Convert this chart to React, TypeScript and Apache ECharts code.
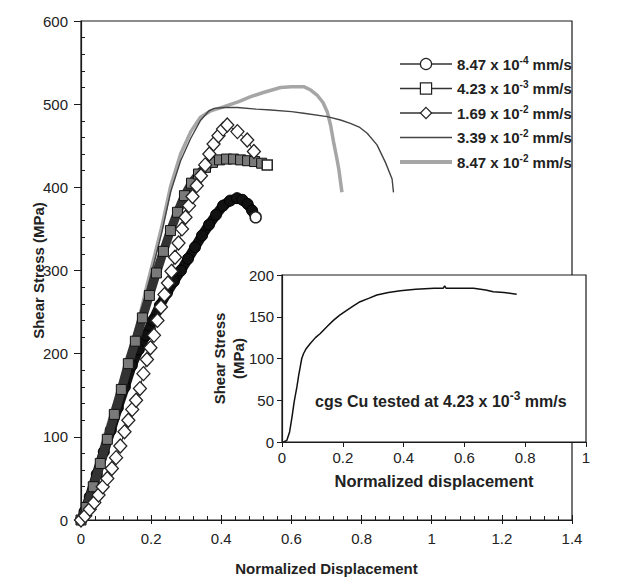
import React, { useEffect, useRef } from "react";
import * as echarts from "echarts";

// Main plot: x ticks / y ticks
const mainXTicks = [0, 0.2, 0.4, 0.6, 0.8, 1, 1.2, 1.4];
const mainYTicks = [0, 100, 200, 300, 400, 500, 600];

// Legend names (mantissa + exponent)
const rateMantissa = ["8.47", "4.23", "1.69", "3.39", "8.47"];
const rateExponent = ["-4", "-3", "-2", "-2", "-2"];
const seriesNames = ["s847e4", "s423e3", "s169e2", "s339e2", "s847e2"];

// 8.47e-4 mm/s (circles)
const circX = [0, 0.01, 0.025, 0.045, 0.065, 0.085, 0.105, 0.125, 0.145, 0.165, 0.185, 0.205, 0.225, 0.245, 0.265, 0.285, 0.305, 0.325, 0.345, 0.365, 0.385, 0.405, 0.425, 0.445, 0.46, 0.475, 0.488, 0.498];
const circY = [0, 10, 28, 55, 82, 108, 135, 160, 186, 205, 222, 240, 258, 273, 287, 300, 314, 328, 342, 355, 367, 378, 384, 387, 385, 380, 372, 364];

// 4.23e-3 mm/s (squares)
const sqX = [0, 0.015, 0.035, 0.055, 0.075, 0.095, 0.115, 0.135, 0.155, 0.175, 0.195, 0.215, 0.235, 0.255, 0.275, 0.295, 0.315, 0.335, 0.355, 0.375, 0.395, 0.415, 0.435, 0.455, 0.475, 0.495, 0.515, 0.531];
const sqY = [0, 15, 40, 68, 97, 127, 157, 188, 215, 243, 270, 297, 323, 348, 370, 390, 405, 416, 424, 430, 433, 434, 434, 433, 432, 431, 429, 427];

// 1.69e-2 mm/s (diamonds)
const diaX = [0, 0.012, 0.025, 0.038, 0.05, 0.062, 0.075, 0.088, 0.1, 0.112, 0.124, 0.135, 0.146, 0.157, 0.168, 0.178, 0.188, 0.198, 0.208, 0.218, 0.228, 0.238, 0.248, 0.258, 0.268, 0.278, 0.288, 0.298, 0.308, 0.318, 0.33, 0.342, 0.354, 0.366, 0.378, 0.392, 0.405, 0.417, 0.446, 0.474, 0.493];
const diaY = [0, 5, 13, 21, 30, 40, 50, 62, 75, 89, 106, 120, 133, 144, 158, 176, 193, 207, 222, 240, 256, 271, 285, 299, 316, 333, 350, 364, 378, 389, 402, 414, 427, 440, 452, 462, 470, 475, 467, 457, 443];

// 3.39e-2 mm/s (thin line)
const thinX = [0, 0.01, 0.03, 0.05, 0.067, 0.09, 0.12, 0.145, 0.17, 0.19, 0.21, 0.23, 0.256, 0.284, 0.313, 0.34, 0.365, 0.38, 0.41, 0.446, 0.5, 0.541, 0.6, 0.635, 0.702, 0.74, 0.768, 0.795, 0.816, 0.844, 0.868, 0.887, 0.891];
const thinY = [0, 13, 42, 72, 98, 131, 170, 207, 246, 280, 312, 345, 395, 432, 459, 480, 492, 495, 496, 496, 494, 493, 491, 489, 485, 481, 477, 472, 465, 451, 430, 410, 394];

// 8.47e-2 mm/s (thick gray line)
const grayX = [0, 0.01, 0.03, 0.05, 0.065, 0.09, 0.12, 0.145, 0.17, 0.19, 0.21, 0.23, 0.256, 0.284, 0.313, 0.34, 0.37, 0.408, 0.45, 0.484, 0.52, 0.569, 0.6, 0.635, 0.655, 0.673, 0.69, 0.702, 0.712, 0.72, 0.728, 0.735, 0.744];
const grayY = [0, 14, 44, 74, 98, 133, 172, 210, 250, 285, 318, 352, 402, 440, 467, 484, 492, 497, 503, 509, 514, 520, 521, 521, 517, 511, 502, 491, 474, 455, 438, 422, 394];

// Inset: cgs Cu tested at 4.23e-3 mm/s
const insetX = [0.005, 0.016, 0.025, 0.033, 0.04, 0.049, 0.055, 0.06, 0.065, 0.071, 0.08, 0.093, 0.11, 0.126, 0.15, 0.17, 0.19, 0.214, 0.235, 0.257, 0.285, 0.312, 0.35, 0.389, 0.44, 0.5, 0.53, 0.535, 0.54, 0.58, 0.63, 0.67, 0.695, 0.73, 0.772];
const insetY = [0, 2, 12, 30, 48, 66, 80, 90, 100, 106, 112, 118, 125, 130, 139, 146, 152, 158, 163, 168, 172, 176, 179, 181, 183, 184, 184, 187, 184, 184, 184, 182, 180, 179, 177];
const insetXTicks = [0, 0.2, 0.4, 0.6, 0.8, 1];
const insetYTicks = [0, 50, 100, 150, 200];

const FONT = "'Liberation Sans', Arial, Helvetica, sans-serif";

function pairs(xs: number[], ys: number[], lastStyle?: any) {
  return xs.map((x, i) => {
    if (lastStyle && i === xs.length - 1) return { value: [x, ys[i]], itemStyle: lastStyle };
    return [x, ys[i]];
  });
}

export default function App() {
  const ref = useRef<HTMLDivElement>(null);
  useEffect(() => {
    if (!ref.current) return;
    const chart = echarts.init(ref.current, null, { renderer: "svg" });
    const richLegend = {
      b: { fontSize: 15, fontWeight: "bold", color: "#222", lineHeight: 18, fontFamily: FONT },
      s: { fontSize: 10, fontWeight: "bold", color: "#222", lineHeight: 10, verticalAlign: "top", fontFamily: FONT },
    };
    const legendFormatter = (name: string) => {
      const i = seriesNames.indexOf(name);
      return `{b|${rateMantissa[i]} x 10}{s|${rateExponent[i]}}{b| mm/s}`;
    };
    const black = "#1a1a1a";
    const mainGrid = { left: 81, right: 52, top: 21, bottom: 62 };
    const option: any = {
      animation: false,
      backgroundColor: "#fff",
      textStyle: { fontFamily: FONT },
      grid: [
        { ...mainGrid, show: true, borderColor: black, borderWidth: 1.2, backgroundColor: "transparent" },
        { left: 282, right: 38, top: 275, bottom: 140, show: true, borderColor: black, borderWidth: 1.2, backgroundColor: "#fff" },
        { ...mainGrid, show: false },
      ],
      xAxis: [
        {
          gridIndex: 0, type: "value", position: "bottom",
          min: mainXTicks[0], max: mainXTicks[mainXTicks.length - 1], interval: 0.2,
          axisLine: { onZero: false, lineStyle: { color: black, width: 1.2 } },
          axisTick: { show: true, inside: false, length: 4, lineStyle: { color: black } },
          splitLine: { show: false },
          axisLabel: { fontSize: 15, color: "#222", margin: 11 },
          name: "Normalized Displacement", nameLocation: "middle", nameGap: 41, nameMoveOverlap: false,
          nameTextStyle: { fontSize: 15, fontWeight: "bold", color: "#222" },
        },
        {
          gridIndex: 1, type: "value", position: "bottom",
          min: insetXTicks[0], max: insetXTicks[insetXTicks.length - 1], interval: 0.2,
          axisLine: { onZero: false, lineStyle: { color: black, width: 1.2 } },
          axisTick: { show: true, inside: false, length: 5, lineStyle: { color: black } },
          splitLine: { show: false },
          axisLabel: { fontSize: 15, color: "#222", margin: 8 },
          name: "Normalized displacement", nameLocation: "middle", nameGap: 30, nameMoveOverlap: false,
          nameTextStyle: { fontSize: 16.5, fontWeight: "bold", color: "#222" },
        },
        {
          gridIndex: 2, type: "value", position: "bottom",
          min: mainXTicks[0], max: mainXTicks[mainXTicks.length - 1], interval: 0.2,
          axisLine: { show: false, onZero: false },
          axisTick: { show: true, inside: true, length: 5, lineStyle: { color: black } },
          minorTick: { show: true, splitNumber: 5, length: 4, lineStyle: { color: black } },
          splitLine: { show: false }, axisLabel: { show: false },
        },
      ],
      yAxis: [
        {
          gridIndex: 0, type: "value", position: "left",
          min: mainYTicks[0], max: mainYTicks[mainYTicks.length - 1], interval: 100,
          axisLine: { show: true, onZero: false, lineStyle: { color: black, width: 1.2 } },
          axisTick: { show: true, inside: false, length: 7, lineStyle: { color: black } },
          splitLine: { show: false },
          axisLabel: { fontSize: 15, color: "#222", margin: 13 },
          name: "Shear Stress (MPa)", nameLocation: "middle", nameGap: 35, nameRotate: 90, nameMoveOverlap: false,
          nameTextStyle: { fontSize: 15, fontWeight: "bold", color: "#222" },
        },
        {
          gridIndex: 1, type: "value", position: "left",
          min: insetYTicks[0], max: insetYTicks[insetYTicks.length - 1], interval: 50,
          axisLine: { show: true, onZero: false, lineStyle: { color: black, width: 1.2 } },
          axisTick: { show: true, inside: false, length: 5, lineStyle: { color: black } },
          splitLine: { show: false },
          axisLabel: { fontSize: 15, color: "#222", margin: 8 },
          name: "Shear Stress\n(MPa)", nameLocation: "middle", nameGap: 34, nameRotate: 90, nameMoveOverlap: false,
          nameTextStyle: { fontSize: 15, fontWeight: "bold", color: "#222", lineHeight: 19 },
        },
        {
          gridIndex: 2, type: "value", position: "left",
          min: mainYTicks[0], max: mainYTicks[mainYTicks.length - 1], interval: 100,
          axisLine: { show: false, onZero: false },
          axisTick: { show: false, inside: true },
          minorTick: { show: true, splitNumber: 5, length: 4, lineStyle: { color: black } },
          splitLine: { show: false }, axisLabel: { show: false },
        },
      ],
      legend: {
        orient: "vertical", left: 393, top: 50,
        itemWidth: 52, itemHeight: 14, itemGap: 8,
        formatter: legendFormatter,
        textStyle: { rich: richLegend, color: "#222" },
        data: [
          { name: seriesNames[0], itemStyle: { color: "#fff", borderColor: "#222", borderWidth: 1.2 }, lineStyle: { color: "#333", width: 1.5 } },
          { name: seriesNames[1], itemStyle: { color: "#fff", borderColor: "#222", borderWidth: 1.2 }, lineStyle: { color: "#333", width: 1.5 } },
          { name: seriesNames[2], itemStyle: { color: "#fff", borderColor: "#222", borderWidth: 1.2 }, lineStyle: { color: "#333", width: 1.5 } },
          { name: seriesNames[3], itemStyle: { color: "rgba(0,0,0,0)", borderWidth: 0, opacity: 0 }, lineStyle: { color: "#444", width: 1.6 } },
          { name: seriesNames[4], itemStyle: { color: "rgba(0,0,0,0)", borderWidth: 0, opacity: 0 }, lineStyle: { color: "#a6a6a6", width: 4 } },
        ],
      },
      series: [
        {
          name: seriesNames[4], type: "line", xAxisIndex: 0, yAxisIndex: 0,
          data: pairs(grayX, grayY), symbol: "none",
          lineStyle: { color: "#a6a6a6", width: 3.5 }, itemStyle: { color: "#a6a6a6" }, z: 2,
        },
        {
          name: seriesNames[3], type: "line", xAxisIndex: 0, yAxisIndex: 0,
          data: pairs(thinX, thinY), symbol: "none",
          lineStyle: { color: "#444", width: 1.4 }, itemStyle: { color: "#444" }, z: 3,
        },
        {
          name: seriesNames[0], type: "line", xAxisIndex: 0, yAxisIndex: 0,
          data: pairs(circX, circY, { color: "#fff", borderColor: "#222", borderWidth: 1.5 }),
          symbol: "circle", symbolSize: 11, showSymbol: true,
          lineStyle: { color: "#111", width: 10 },
          itemStyle: { color: "#111", borderColor: "#000", borderWidth: 1 }, z: 4,
        },
        {
          name: seriesNames[1], type: "line", xAxisIndex: 0, yAxisIndex: 0,
          data: pairs(sqX, sqY, { color: "#fff", borderColor: "#222", borderWidth: 1.5 }),
          symbol: "rect", symbolSize: 10, showSymbol: true,
          lineStyle: { color: "#333", width: 9 },
          itemStyle: { color: "#7a7a7a", borderColor: "#111", borderWidth: 1 }, z: 5,
        },
        {
          name: seriesNames[2], type: "line", xAxisIndex: 0, yAxisIndex: 0,
          data: pairs(diaX, diaY), symbol: "diamond", symbolSize: [13, 14], showSymbol: true,
          lineStyle: { color: "#222", width: 1 },
          itemStyle: { color: "#fff", borderColor: "#222", borderWidth: 1.3 }, z: 6,
        },
        {
          name: "inset", type: "line", xAxisIndex: 1, yAxisIndex: 1,
          data: pairs(insetX, insetY), symbol: "none",
          lineStyle: { color: "#111", width: 1.5 }, z: 7,
        },
        {
          name: "ticksOnly", type: "line", xAxisIndex: 2, yAxisIndex: 2,
          data: [[mainXTicks[0], mainYTicks[0]]], symbol: "none", silent: true,
          lineStyle: { opacity: 0 },
        },
      ],
      graphic: [
        {
          type: "text", left: 315, top: 390, z: 100,
          style: {
            text: "{b|cgs Cu tested at 4.23 x 10}{s|-3}{b| mm/s}",
            rich: {
              b: { fontSize: 16, fontWeight: "bold", fill: "#222", lineHeight: 22, fontFamily: FONT },
              s: { fontSize: 12, fontWeight: "bold", fill: "#222", lineHeight: 12, verticalAlign: "top", fontFamily: FONT },
            },
          },
        },
      ],
    };
    chart.setOption(option);
    return () => chart.dispose();
  }, []);
  return <div ref={ref} style={{ position: "fixed", left: 0, top: 0, width: 624, height: 582 }} />;
}
